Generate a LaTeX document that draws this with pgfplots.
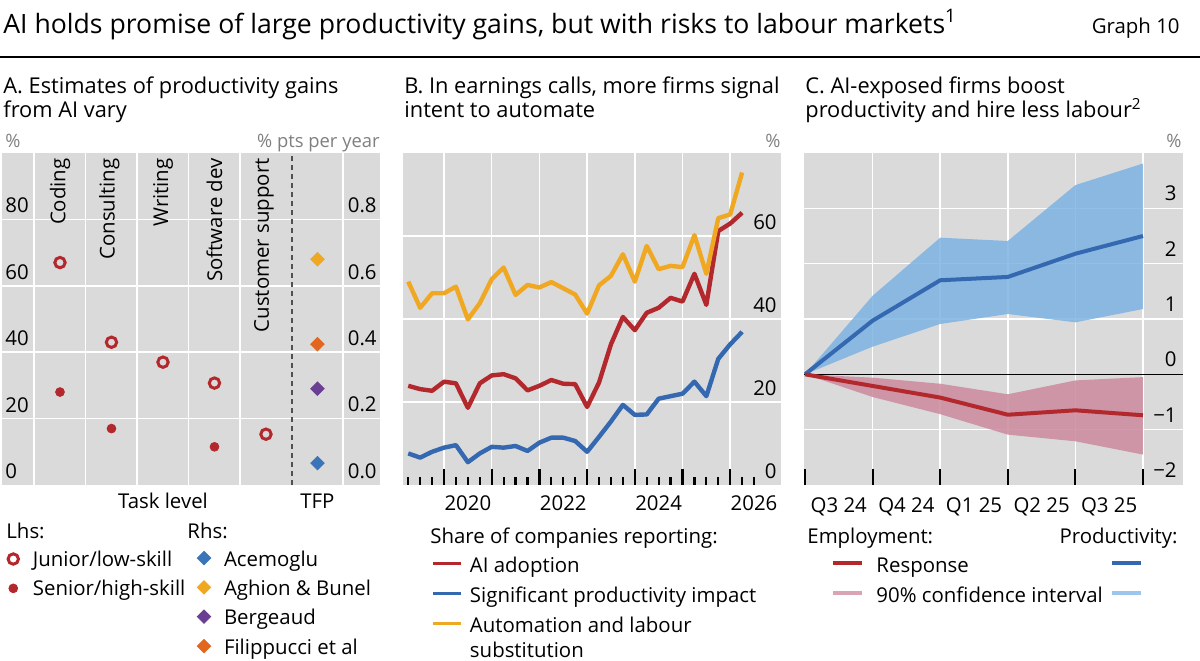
\documentclass[border=0pt]{standalone}
\usepackage{fontspec}
\setmainfont{Open Sans}
\usepackage{pgfplots}
\usepackage{pgfplotstable}
\pgfplotsset{compat=1.18}

\definecolor{bisred}{HTML}{B3282D}
\definecolor{bisblue}{HTML}{3468B0}
\definecolor{bisyellow}{HTML}{F0A823}
\definecolor{bispurple}{HTML}{6A3E92}
\definecolor{bisorange}{HTML}{E1661E}
\definecolor{diamblue}{HTML}{3A74B9}
\definecolor{bgrey}{HTML}{DADADA}
\definecolor{bandblue}{HTML}{7CB3E3}
\definecolor{bandpink}{HTML}{CB8A9C}
\definecolor{legpink}{HTML}{D9A5B5}
\definecolor{legblue}{HTML}{9CC6EE}
\definecolor{unitgray}{HTML}{7F7F7F}
\definecolor{dashgray}{HTML}{505050}

\newcommand\titlefont{\fontsize{13.3}{16}\selectfont}
\newcommand\panelfont{\fontsize{10.9}{13}\selectfont}
\newcommand\lblfont{\fontsize{10.2}{12.2}\selectfont}
\newcommand\unitfont{\fontsize{9.2}{11}\selectfont}

% t = years after 2019 (quarterly)
\pgfplotstableread{
t     red   blue  yellow
0.25  23.9  7.6   49.0
0.50  23.1  6.6   42.7
0.75  22.7  8.0   46.2
1.00  24.9  9.0   46.2
1.25  24.5  9.6   47.8
1.50  18.6  5.5   39.9
1.75  24.5  7.6   43.8
2.00  26.4  9.2   49.6
2.25  26.7  9.0   52.4
2.50  25.7  9.4   45.8
2.75  22.8  8.2   48.2
3.00  23.9  10.2  47.6
3.25  25.3  11.4  48.9
3.50  24.4  11.4  47.4
3.75  24.3  10.6  45.9
4.00  18.8  8.0   41.3
4.25  24.7  11.6  48.1
4.50  33.9  15.3  50.4
4.75  40.5  19.3  55.6
5.00  37.3  16.9  49.0
5.25  41.5  17.0  57.6
5.50  42.7  20.8  52.0
5.75  45.1  21.4  52.8
6.00  44.2  22.0  52.5
6.25  50.9  24.9  60.2
6.50  43.4  21.4  50.9
6.75  61.2  30.4  64.3
7.00  63.0  33.9  65.2
7.25  65.6  36.9  75.3
}\earnings

% tick marks of panel B (height in axis units: 8pt = 3.86, 4pt = 1.93)
\pgfplotstableread{
x     h
1     3.86
2     3.86
3     3.86
4     3.86
5     3.86
6     3.86
7     3.86
}\ticksmajor
\pgfplotstableread{
x     h
0.25  1.93
0.50  1.93
0.75  1.93
1.25  1.93
1.50  1.93
1.75  1.93
2.25  1.93
2.50  1.93
2.75  1.93
3.25  1.93
3.50  1.93
3.75  1.93
4.25  1.93
4.50  1.93
4.75  1.93
5.25  1.93
5.50  1.93
5.75  1.93
6.25  1.93
6.50  1.93
6.75  1.93
7.25  1.93
7.50  1.93
}\ticksminor

\pgfplotsset{
  bisbase/.style={
    scale only axis, anchor=north west, height=166pt,
    axis line style={draw=none},
    grid style={white, line width=0.75pt},
    tick style={black, line width=1pt},
    tick align=inside,
    xtick pos=left,
    ytick style={draw=none},
    xticklabel style={anchor=base, inner sep=0pt, font=\lblfont},
    legend style={draw=none, fill=none, inner sep=0pt, outer sep=0pt, anchor=north west,
      font=\lblfont,
      nodes={inner sep=0pt, text height=8pt, text depth=3pt, anchor=base west}},
  }
}

\begin{document}
\begin{tikzpicture}
\path[use as bounding box] (0,0) rectangle (600pt,-330pt);

% ---------------- Panel A (left axis) ----------------
\begin{axis}[bisbase, width=189pt, at={(1pt,-76.5pt)},
  xmin=-0.126, xmax=7.214, ymin=0, ymax=100,
  axis background/.style={fill=bgrey},
  xtick={0.5,1.5,2.5,3.5,4.5,6.5}, xticklabels={},
  extra x ticks={3,6}, extra x tick labels={Task level,TFP},
  extra x tick style={grid=none},
  xmajorgrids, ymajorgrids,
  major tick length=0pt,
  ytick={20,40,60,80}, yticklabels={20,40,60,80},
  extra y ticks={0}, extra y tick labels={0},
  extra y tick style={grid=none},
  xticklabel style={yshift=-11.5pt},
  yticklabel style={anchor=south west, inner sep=0pt, xshift=1.5pt, yshift=3pt, font=\lblfont},
  clip=false,
  legend image code/.code={\draw[#1] plot coordinates {(0pt,3.5pt)};},
  legend style={at={(0.0161,-0.1958)}, row sep=3.67pt},
  /tikz/every odd column/.style={column sep=7.25pt},
]
\addplot[forget plot, dashgray, line width=0.8pt, dash pattern=on 2.5pt off 2pt] coordinates {(5.5,0) (5.5,100)};
\addplot[forget plot, only marks, mark=o, mark size=2.6pt, bisred, line width=1.5pt]
  coordinates {(1,67) (2,43) (3,37) (4,30.7) (5,15.3)};
\addplot[forget plot, only marks, mark=*, mark size=2.2pt, bisred]
  coordinates {(1,28) (2,17) (4,11.5)};
\addlegendimage{mark=o, mark size=2.6pt, bisred, line width=1.5pt}
\addlegendentry{Junior/low-skill}
\addlegendimage{mark=*, mark size=2.2pt, bisred}
\addlegendentry{Senior/high-skill}
\node[rotate=90, anchor=east, inner sep=0pt, font=\lblfont] at (axis cs:1,98.5) {Coding};
\node[rotate=90, anchor=east, inner sep=0pt, font=\lblfont] at (axis cs:1.96,98.5) {Consulting};
\node[rotate=90, anchor=east, inner sep=0pt, font=\lblfont] at (axis cs:3,98.5) {Writing};
\node[rotate=90, anchor=east, inner sep=0pt, font=\lblfont] at (axis cs:4,98.5) {Software dev};
\node[rotate=90, anchor=east, inner sep=0pt, font=\lblfont] at (axis cs:4.96,98.5) {Customer support};
\end{axis}

% ---------------- Panel A (right axis) ----------------
\begin{axis}[bisbase, width=189pt, at={(1pt,-76.5pt)},
  xmin=-0.126, xmax=7.214, ymin=0, ymax=1,
  xtick=\empty,
  major tick length=0pt,
  ytick={0,0.2,0.4,0.6,0.8}, yticklabels={0.0,0.2,0.4,0.6,0.8},
  yticklabel pos=right,
  yticklabel style={anchor=south east, inner sep=0pt, xshift=-1.5pt, yshift=3pt, font=\lblfont},
  clip=false,
  legend image code/.code={\draw[#1] plot coordinates {(0pt,4pt)};},
  legend style={at={(0.5167,-0.1958)}, row sep=3.67pt},
  /tikz/every odd column/.style={column sep=6.65pt},
]
\addplot[forget plot, mark=square*, mark size=2.37pt, mark options={rotate=45}, diamblue] coordinates {(6,0.066)};
\addplot[forget plot, mark=square*, mark size=2.37pt, mark options={rotate=45}, bisyellow] coordinates {(6,0.68)};
\addplot[forget plot, mark=square*, mark size=2.37pt, mark options={rotate=45}, bispurple] coordinates {(6,0.29)};
\addplot[forget plot, mark=square*, mark size=2.37pt, mark options={rotate=45}, bisorange] coordinates {(6,0.424)};
\addlegendimage{mark=square*, mark size=2.37pt, mark options={rotate=45}, diamblue}
\addlegendentry{Acemoglu}
\addlegendimage{mark=square*, mark size=2.37pt, mark options={rotate=45}, bisyellow}
\addlegendentry{Aghion \& Bunel}
\addlegendimage{mark=square*, mark size=2.37pt, mark options={rotate=45}, bispurple}
\addlegendentry{Bergeaud}
\addlegendimage{mark=square*, mark size=2.37pt, mark options={rotate=45}, bisorange}
\addlegendentry{Filippucci et al}
\end{axis}

% ---------------- Panel B (x = years after 2019) ----------------
\begin{axis}[bisbase, width=189pt, at={(201.5pt,-76.5pt)},
  xmin=0.14, xmax=8.065, ymin=0, ymax=80,
  axis background/.style={fill=bgrey},
  xtick={1,2,3,4,5,6,7}, xticklabels={},
  xmajorgrids, ymajorgrids,
  major tick length=0pt,
  extra x ticks={1.5,3.5,5.5,7.5},
  extra x tick labels={2020,2022,2024,2026},
  extra x tick style={grid=none, major tick length=0pt},
  xticklabel style={yshift=-13pt},
  ytick={20,40,60}, yticklabels={20,40,60},
  extra y ticks={0}, extra y tick labels={0},
  extra y tick style={grid=none},
  yticklabel pos=right,
  yticklabel style={anchor=south east, inner sep=0pt, xshift=-2pt, yshift=3pt, font=\lblfont},
  legend image code/.code={\draw[#1] (0pt,4.5pt) -- (14pt,4.5pt);},
  legend style={at={(0.0767,-0.2139)}, row sep=4pt},
  /tikz/every odd column/.style={column sep=3.5pt},
]
\addplot[forget plot, bisred, line width=2.2pt, line join=round] table[x=t, y=red] {\earnings};
\addplot[forget plot, bisblue, line width=2.2pt, line join=round] table[x=t, y=blue] {\earnings};
\addplot[forget plot, bisyellow, line width=2.2pt, line join=round] table[x=t, y=yellow] {\earnings};
\addlegendimage{bisred, line width=1.5pt}
\addlegendentry{AI adoption}
\addlegendimage{bisblue, line width=1.5pt}
\addlegendentry{Significant productivity impact}
\addlegendimage{bisyellow, line width=1.5pt}
\addlegendentry{Automation and labour}
\addlegendimage{empty legend}
\addlegendentry[text height=5.5pt]{substitution}
\end{axis}

% ---------------- Panel C ----------------
\begin{axis}[bisbase, width=189.5pt, at={(402pt,-76.5pt)},
  xmin=-0.015, xmax=5.592, ymin=-2, ymax=4,
  axis background/.style={fill=bgrey},
  xtick={0.5,1.5,2.5,3.5,4.5},
  xticklabels={Q3 24,Q4 24,Q1 25,Q2 25,Q3 25},
  major tick length=0pt,
  extra x ticks={1,2,3,4,5}, extra x tick labels={},
  extra x tick style={grid=major, major tick length=0pt},
  xticklabel style={yshift=-13.5pt},
  ytick={-1,1,2,3}, yticklabels={−1,1,2,3},
  ymajorgrids,
  extra y ticks={-2,0}, extra y tick labels={−2,0},
  extra y tick style={grid=none},
  yticklabel pos=right,
  yticklabel style={anchor=south east, inner sep=0pt, xshift=-3pt, yshift=3.5pt, font=\lblfont},
  legend columns=2,
  legend image code/.code={\draw[#1] (0pt,4.5pt) -- (14.5pt,4.5pt);},
  legend style={at={(0.0712,-0.2139)}, row sep=4pt},
  /tikz/every odd column/.style={column sep=6.5pt},
  /tikz/every even column/.style={column sep=3.5pt},
]
\addplot[forget plot, fill=bandblue, fill opacity=0.85, draw=none]
  coordinates {(0,0) (1,1.42) (2,2.47) (3,2.41) (4,3.42) (5,3.81) (5,1.18) (4,0.94) (3,1.09) (2,0.91) (1,0.50) (0,0)};
\addplot[forget plot, fill=bandpink, fill opacity=0.85, draw=none]
  coordinates {(0,0) (1,-0.06) (2,-0.17) (3,-0.36) (4,-0.11) (5,-0.05) (5,-1.45) (4,-1.21) (3,-1.09) (2,-0.72) (1,-0.41) (0,0)};
\addplot[forget plot, black, line width=0.75pt] coordinates {(-0.015,0) (5.592,0)};
\addplot[forget plot, bisblue, line width=2pt, line join=round]
  coordinates {(0,0) (1,0.97) (2,1.70) (3,1.76) (4,2.18) (5,2.50)};
\addplot[forget plot, bisred, line width=2pt, line join=round]
  coordinates {(0,0) (1,-0.21) (2,-0.42) (3,-0.73) (4,-0.65) (5,-0.74)};
\addlegendimage{bisred, line width=1.75pt}
\addlegendentry{Response}
\addlegendimage{bisblue, line width=1.75pt}
\addlegendentry{}
\addlegendimage{legpink, line width=1.75pt}
\addlegendentry{90\% confidence interval}
\addlegendimage{legblue, line width=1.75pt}
\addlegendentry{}
\end{axis}
% tick overlay C
\begin{axis}[bisbase, width=189.5pt, at={(402pt,-76.5pt)},
  xmin=-0.015, xmax=5.592, ymin=-2, ymax=4,
  xtick={0,1,...,5}, xticklabels={},
  major tick length=8pt,
  ytick=\empty,
]
\addplot[draw=none, forget plot] coordinates {(1,0) (2,0)};
\end{axis}

% ---------------- Texts ----------------
\begin{scope}[x=0.5pt, y=-0.5pt]
\node[anchor=base west, inner sep=0pt] at (3,33) {\titlefont AI holds promise of large productivity gains, but with risks to labour markets\textsuperscript{1}};
\node[anchor=base east, inner sep=0pt] at (1180,33) {\lblfont Graph 10};
\draw[line width=1pt] (0,57.3) -- (1200,57.3);

\node[anchor=base west, inner sep=0pt] at (3,93) {\panelfont A. Estimates of productivity gains};
\node[anchor=base west, inner sep=0pt] at (3,117) {\panelfont from AI vary};
\node[anchor=base west, inner sep=0pt] at (404,93) {\panelfont B. In earnings calls, more firms signal};
\node[anchor=base west, inner sep=0pt] at (404,117) {\panelfont intent to automate};
\node[anchor=base west, inner sep=0pt] at (805,93) {\panelfont C. AI-exposed firms boost};
\node[anchor=base west, inner sep=0pt] at (805,117) {\panelfont productivity and hire less labour\textsuperscript{2}};

\node[anchor=base west, inner sep=0pt, text=unitgray] at (5,147) {\unitfont \%};
\node[anchor=base east, inner sep=0pt, text=unitgray] at (380,147) {\unitfont \% pts per year};
\node[anchor=base east, inner sep=0pt, text=unitgray] at (781,147) {\unitfont \%};
\node[anchor=base east, inner sep=0pt, text=unitgray] at (1182,147) {\unitfont \%};

\node[anchor=base west, inner sep=0pt] at (6,538) {\lblfont Lhs:};
\node[anchor=base west, inner sep=0pt] at (187,538) {\lblfont Rhs:};
\node[anchor=base west, inner sep=0pt] at (430,543) {\lblfont Share of companies reporting:};
\node[anchor=base west, inner sep=0pt] at (807,543) {\lblfont Employment:};
\node[anchor=base east, inner sep=0pt] at (1178,543) {\lblfont Productivity:};
\end{scope}

% ---------------- Panel B tick marks, drawn last ----------------
\begin{axis}[bisbase, width=189pt, at={(201.5pt,-76.5pt)},
  xmin=0.14, xmax=8.065, ymin=0, ymax=80,
  xtick=\empty, ytick=\empty, clip=false,
]
\addplot[forget plot, ycomb, black, line width=1.1pt, mark=none] table[x=x, y=h] {\ticksmajor};
\addplot[forget plot, ycomb, black, line width=1.1pt, mark=none] table[x=x, y=h] {\ticksminor};
\end{axis}
\end{tikzpicture}
\end{document}
